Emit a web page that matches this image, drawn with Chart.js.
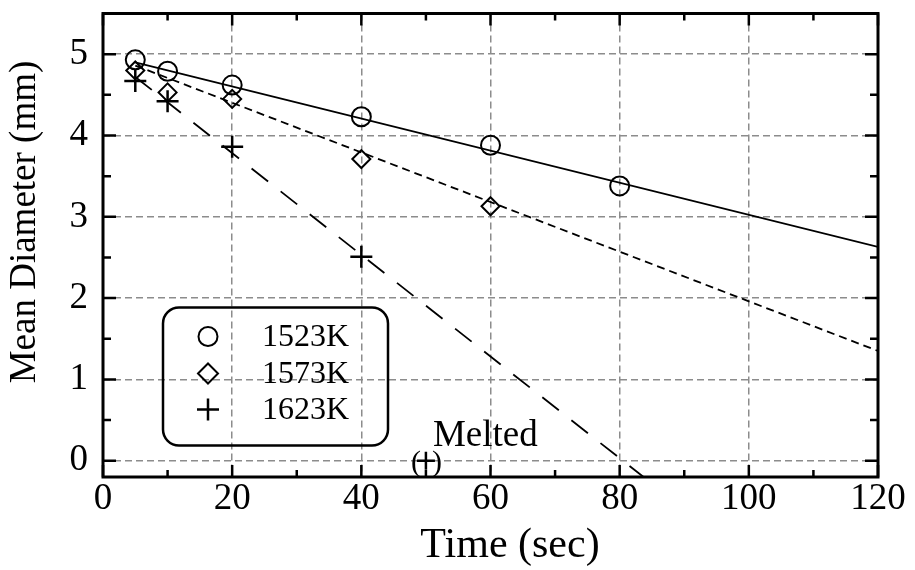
<!DOCTYPE html>
<html>
<head>
<meta charset="utf-8">
<script src="https://cdn.jsdelivr.net/npm/chart.js@4"></script>
<style>
  html, body { margin: 0; padding: 0; background: #fff; }
  #wrap { width: 915px; height: 570px; }
</style>
</head>
<body>
<div id="wrap"><canvas id="chart" width="915" height="570"></canvas></div>
<script>
// Measured points (time in sec, mean diameter in mm)
const times1523 = [5, 10, 20, 40, 60, 80];
const diam1523 = [4.93, 4.79, 4.62, 4.23, 3.88, 3.38];
const times1573 = [5, 10, 20, 40, 60];
const diam1573 = [4.80, 4.53, 4.45, 3.71, 3.13];
const times1623 = [5, 10, 20, 40];
const diam1623 = [4.67, 4.42, 3.86, 2.51];
// the "melted" sample, drawn in parentheses
const meltedTime = [50];
const meltedDiam = [0];

// Fitted lines, end points
const fitTimes1523 = [5, 120];
const fitDiam1523 = [4.90, 2.63];
const fitTimes1573 = [5, 120];
const fitDiam1573 = [4.86, 1.35];
const fitTimes1623 = [5, 83.7];
const fitDiam1623 = [4.72, -0.2];

const seriesLabels = ["1523K", "1573K", "1623K"];
const xTickValues = [0, 20, 40, 60, 80, 100, 120];
const xMinorValues = [10, 30, 50, 70, 90, 110];
const yTickValues = [0, 1, 2, 3, 4, 5];
const yMinorValues = [0.5, 1.5, 2.5, 3.5, 4.5];

const FONT = "'Liberation Serif', 'Times New Roman', serif";

function toPoints(xs, ys) {
  return xs.map((x, i) => ({ x: x, y: ys[i] }));
}

// Frame, inward ticks, axis titles, legend box and the "Melted" note
const decorations = {
  id: "decorations",
  afterDraw(chart) {
    const ctx = chart.ctx;
    const area = chart.chartArea;
    const xs = chart.scales.x;
    const ys = chart.scales.y;
    ctx.save();
    ctx.strokeStyle = "#000";

    // inward ticks on all four sides
    ctx.lineWidth = 2.5;
    const tick = (vals, len, isX) => {
      vals.forEach((v) => {
        ctx.beginPath();
        if (isX) {
          const p = xs.getPixelForValue(v);
          ctx.moveTo(p, area.bottom); ctx.lineTo(p, area.bottom - len);
          ctx.moveTo(p, area.top); ctx.lineTo(p, area.top + len);
        } else {
          const p = ys.getPixelForValue(v);
          ctx.moveTo(area.left, p); ctx.lineTo(area.left + len, p);
          ctx.moveTo(area.right, p); ctx.lineTo(area.right - len, p);
        }
        ctx.stroke();
      });
    };
    tick(xTickValues, 12, true);
    tick(xMinorValues, 7, true);
    tick(yTickValues, 13, false);
    tick(yMinorValues, 8, false);

    // frame
    ctx.lineWidth = 3;
    ctx.strokeRect(area.left, area.top, area.right - area.left, area.bottom - area.top);

    // axis titles
    ctx.fillStyle = "#000";
    ctx.font = "42px " + FONT;
    ctx.textAlign = "center";
    ctx.textBaseline = "alphabetic";
    ctx.fillText("Time (sec)", 510, 557);

    ctx.save();
    ctx.translate(35, 222);
    ctx.rotate(-Math.PI / 2);
    ctx.font = "37px " + FONT;
    ctx.fillText("Mean Diameter (mm)", 0, 0);
    ctx.restore();

    // legend box
    const bx = area.left + 60, by = area.top + 294, bw = 225, bh = 138, r = 16;
    ctx.lineWidth = 2.5;
    ctx.beginPath();
    ctx.roundRect(bx, by, bw, bh, r);
    ctx.stroke();

    const rows = [by + 29, by + 66, by + 102];
    const mx = bx + 45;
    ctx.lineWidth = 2;
    // circle
    ctx.beginPath();
    ctx.arc(mx, rows[0], 9.5, 0, Math.PI * 2);
    ctx.stroke();
    // diamond
    ctx.beginPath();
    ctx.moveTo(mx - 10, rows[1]);
    ctx.lineTo(mx, rows[1] - 10);
    ctx.lineTo(mx + 10, rows[1]);
    ctx.lineTo(mx, rows[1] + 10);
    ctx.closePath();
    ctx.stroke();
    // plus
    ctx.lineWidth = 2.5;
    ctx.beginPath();
    ctx.moveTo(mx - 11, rows[2]); ctx.lineTo(mx + 11, rows[2]);
    ctx.moveTo(mx, rows[2] - 11); ctx.lineTo(mx, rows[2] + 11);
    ctx.stroke();

    ctx.font = "32px " + FONT;
    ctx.textAlign = "left";
    ctx.textBaseline = "middle";
    seriesLabels.forEach((lab, i) => ctx.fillText(lab, bx + 99, rows[i] + 1));

    // melted point: parentheses + note
    const px = xs.getPixelForValue(meltedTime[0]);
    const py = ys.getPixelForValue(meltedDiam[0]);
    ctx.font = "30px " + FONT;
    ctx.textBaseline = "middle";
    ctx.textAlign = "right";
    ctx.fillText("(", px - 5, py + 2);
    ctx.textAlign = "left";
    ctx.fillText(")", px + 6, py + 2);
    ctx.font = "37px " + FONT;
    ctx.textBaseline = "alphabetic";
    ctx.fillText("Melted", px + 7, py - 15);

    ctx.restore();
  },
};

const pointSet = (label, xs, ys, style, radius, width) => ({
  type: "scatter",
  label: label,
  data: toPoints(xs, ys),
  showLine: false,
  pointStyle: style,
  pointRadius: radius,
  pointHoverRadius: radius,
  pointBorderWidth: width,
  borderColor: "#000",
  backgroundColor: "rgba(0,0,0,0)",
});

const lineSet = (label, xs, ys, dash) => ({
  type: "line",
  label: label,
  data: toPoints(xs, ys),
  borderColor: "#000",
  borderWidth: 1.8,
  borderDash: dash,
  pointRadius: 0,
  fill: false,
  tension: 0,
});

new Chart(document.getElementById("chart"), {
  type: "scatter",
  data: {
    datasets: [
      lineSet("fit 1523K", fitTimes1523, fitDiam1523, []),
      lineSet("fit 1573K", fitTimes1573, fitDiam1573, [8, 5]),
      lineSet("fit 1623K", fitTimes1623, fitDiam1623, [21, 16]),
      pointSet(seriesLabels[0], times1523, diam1523, "circle", 9.5, 2),
      pointSet(seriesLabels[1], times1573, diam1573, "rectRot", 9, 2),
      pointSet(seriesLabels[2], times1623, diam1623, "cross", 11, 2.5),
      pointSet("melted", meltedTime, meltedDiam, "cross", 9, 2.5),
    ],
  },
  options: {
    responsive: false,
    animation: false,
    events: [],
    layout: { padding: { top: 12, right: 37, left: 0, bottom: 0 } },
    plugins: {
      legend: { display: false },
      tooltip: { enabled: false },
    },
    scales: {
      x: {
        type: "linear",
        min: 0,
        max: 120,
        afterBuildTicks: (s) => { s.ticks = xTickValues.map((v) => ({ value: v })); },
        afterFit: (s) => {
          s.height = 93;
          s.paddingLeft = 0;
          s.paddingRight = 0;
        },
        ticks: {
          color: "#000",
          padding: 0,
          maxRotation: 0,
          font: { family: FONT, size: 37 },
        },
        grid: { color: "#8c8c8c", lineWidth: 1.5, drawTicks: false },
        border: { display: false, dash: [7, 4] },
      },
      y: {
        type: "linear",
        min: -0.2,
        max: 5.5,
        afterBuildTicks: (s) => { s.ticks = yTickValues.map((v) => ({ value: v })); },
        afterFit: (s) => {
          s.width = 103;
          s.paddingTop = 0;
          s.paddingBottom = 0;
        },
        ticks: {
          color: "#000",
          padding: 15,
          font: { family: FONT, size: 37 },
        },
        grid: { color: "#8c8c8c", lineWidth: 1.5, drawTicks: false },
        border: { display: false, dash: [7, 4] },
      },
    },
  },
  plugins: [decorations],
});
</script>
</body>
</html>
